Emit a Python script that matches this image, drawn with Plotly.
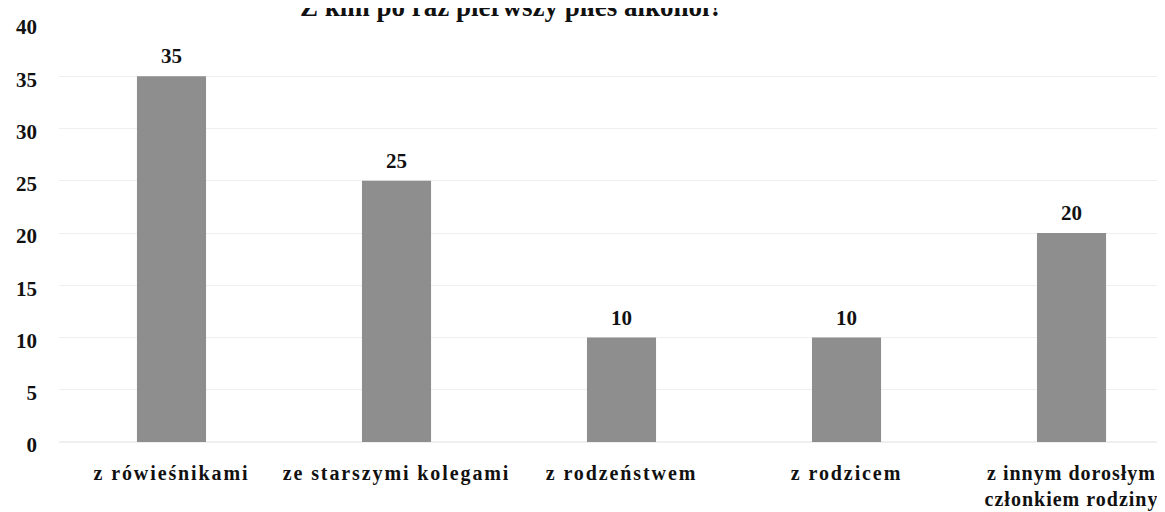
import plotly.graph_objects as go

categories = ["z rówieśnikami", "ze starszymi kolegami", "z rodzeństwem", "z rodzicem",
              "z innym dorosłym<br>członkiem rodziny"]
values = [35, 25, 10, 10, 20]
y_ticks = [0, 5, 10, 15, 20, 25, 30, 35, 40]
title_text = "Z kim po raz pierwszy piłeś alkohol?"

SERIF = "Liberation Serif, Times New Roman, serif"


def spaced(label):
    sp = 1.9 if "<br>" not in label else 1.0
    return "<br>".join('<span style="letter-spacing:%.1fpx">' % sp + part + "</span>"
                       for part in label.split("<br>"))


fig = go.Figure()
fig.add_trace(go.Bar(
    x=categories, y=values,
    marker=dict(color="#8e8e8e", line=dict(width=0)),
    width=0.307,
))

for c, v in zip(categories, values):
    fig.add_annotation(
        x=c, y=v, text="<b>" + str(v) + "</b>", showarrow=False,
        xanchor="center", yanchor="bottom", yshift=6,
        font=dict(family=SERIF, size=21, color="#111111"),
    )

fig.add_annotation(
    text="<b>" + title_text + "</b>",
    xref="paper", yref="paper", x=0.406, y=1.0,
    xanchor="center", yanchor="bottom", showarrow=False,
    font=dict(family=SERIF, size=27, color="#111111"),
)

fig.update_layout(
    width=1165, height=512,
    margin=dict(l=51, r=0, t=16, b=78),
    paper_bgcolor="white", plot_bgcolor="white",
    showlegend=False,
    font=dict(family=SERIF, color="#111111"),
    xaxis=dict(
        range=[-0.5, 4.451], showgrid=False, showline=False, ticks="",
        tickvals=categories, ticktext=[spaced(c) for c in categories],
        tickfont=dict(family=SERIF, size=20, color="#111111", weight="bold"),
        ticklabelstandoff=17,
    ),
    yaxis=dict(
        range=[0, 40], tickvals=y_ticks, showline=False, ticks="",
        gridcolor="#efefef", gridwidth=1, zeroline=True, zerolinecolor="#efefef",
        tickfont=dict(family=SERIF, size=21, color="#111111", weight="bold"),
        ticklabelstandoff=21, ticklabelshift=3,
    ),
)

fig.write_html("out.html")
